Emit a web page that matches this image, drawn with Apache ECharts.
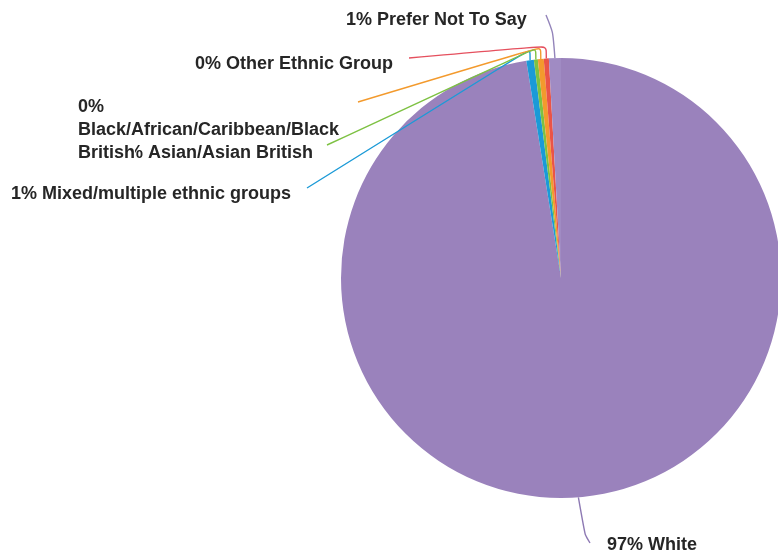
<!DOCTYPE html>
<html>
<head>
<meta charset="utf-8">
<script src="https://cdn.jsdelivr.net/npm/echarts@6/dist/echarts.min.js"></script>
<style>
  html, body { margin: 0; padding: 0; background: #ffffff; }
  #chart { width: 778px; height: 558px; }
</style>
</head>
<body>
<div id="chart"></div>
<script>
// Ethnicity breakdown (percent of respondents)
const categories = [
  'White',
  'Mixed/multiple ethnic groups',
  'Black/African/Caribbean/Black British',
  'Asian/Asian British',
  'Other Ethnic Group',
  'Prefer Not To Say'
];
const shares = [97.48, 0.55, 0.29, 0.43, 0.37, 0.88];
const sliceColors = ['#9a82bc', '#1b9ad7', '#7dc142', '#f39a2d', '#ea5447', '#a08bc3'];
const leaderColors = ['#8d79b3', '#1b9ad7', '#7dc142', '#f39a2d', '#e5505e', '#9384ba'];

const FONT_FAMILY = '"Liberation Sans", Arial, Helvetica, sans-serif';
const FONT_SIZE = 18;
const LINE_HEIGHT = 23;
const PIE_CENTER = [561, 278];
const PIE_RADIUS = 220;

// Where each label sits (left edge, vertical centre) and how its leader line runs.
const labelPlacement = {
  'White': { x: 607, y: 545, bend: [585, 535], end: [590, 543] },
  'Mixed/multiple ethnic groups': { x: 11, y: 194, bendY: 49, end: [307, 188] },
  'Black/African/Caribbean/Black British': { x: 78, y: 130, bendY: 48, end: [327, 145], wrap: 270, top: true },
  'Asian/Asian British': { x: 117, y: 153, bendY: 47, end: [358, 102] },
  'Other Ethnic Group': { x: 195, y: 64, bendY: 46, end: [409, 58] },
  'Prefer Not To Say': { x: 346, y: 20, bend: [553, 32], end: [546, 15] }
};

// Word wrap on spaces only, measured with the label font.
const measureCtx = document.createElement('canvas').getContext('2d');
measureCtx.font = 'bold ' + FONT_SIZE + 'px ' + FONT_FAMILY;
function wrapWords(text, maxWidth) {
  if (!maxWidth) return [text];
  const words = text.split(' ');
  const lines = [];
  let line = '';
  words.forEach(function (w) {
    const trial = line ? line + ' ' + w : w;
    if (line && measureCtx.measureText(trial).width > maxWidth) {
      lines.push(line);
      line = w;
    } else {
      line = trial;
    }
  });
  if (line) lines.push(line);
  return lines;
}

const labelFont = {
  color: '#262626',
  fontFamily: FONT_FAMILY,
  fontWeight: 'bold',
  fontSize: FONT_SIZE,
  lineHeight: LINE_HEIGHT
};

function labelText(p) {
  const place = labelPlacement[p.name];
  const lines = wrapWords(Math.round(p.percent) + '% ' + p.name, place.wrap);
  if (place.top && lines.length > 1) {
    // last line sits on a white box so it reads cleanly over the neighbouring label
    lines[lines.length - 1] = '{cover|' + lines[lines.length - 1] + '}';
  }
  return lines.join('\n');
}

function placeLabel(params) {
  const place = labelPlacement[categories[params.dataIndex]];
  const pts = params.labelLinePoints;
  if (!place || !pts) return {};
  const start = pts[0];
  const bend = place.bend ? place.bend : [start[0], place.bendY];
  return {
    x: place.x,
    y: place.y,
    align: 'left',
    verticalAlign: 'middle',
    labelLinePoints: [start, bend, place.end]
  };
}

// Slices only
const sliceData = categories.map(function (name, i) {
  return { name: name, value: shares[i], itemStyle: { color: sliceColors[i] } };
});

// Same geometry, invisible fill, carrying labels + leader lines above the slices
function labelData(showFn) {
  return categories.map(function (name, i) {
    const show = showFn(name);
    return {
      name: name,
      value: shares[i],
      label: { show: show },
      labelLine: { show: show, lineStyle: { color: leaderColors[i] } }
    };
  });
}

const pieBase = {
  type: 'pie',
  center: PIE_CENTER,
  radius: PIE_RADIUS,
  startAngle: 90,
  clockwise: true,
  avoidLabelOverlap: false,
  minShowLabelAngle: 0,
  silent: true
};

const labelSeries = function (z, showFn) {
  return Object.assign({}, pieBase, {
    z: z,
    data: labelData(showFn),
    itemStyle: { color: 'rgba(0,0,0,0)', borderWidth: 0 },
    label: Object.assign({
      show: true,
      position: 'outside',
      formatter: labelText,
      rich: { cover: Object.assign({ backgroundColor: '#ffffff' }, labelFont) }
    }, labelFont),
    labelLine: { show: true, smooth: 0.25, lineStyle: { width: 1.4 } },
    labelLayout: placeLabel
  });
};

const chart = echarts.init(document.getElementById('chart'), null, { renderer: 'canvas' });
chart.setOption({
  backgroundColor: '#ffffff',
  animation: false,
  series: [
    Object.assign({}, pieBase, {
      z: 2,
      data: sliceData,
      itemStyle: { borderWidth: 0 },
      label: { show: false },
      labelLine: { show: false }
    }),
    labelSeries(3, function (name) { return !labelPlacement[name].top; }),
    labelSeries(4, function (name) { return !!labelPlacement[name].top; })
  ]
});
</script>
</body>
</html>
